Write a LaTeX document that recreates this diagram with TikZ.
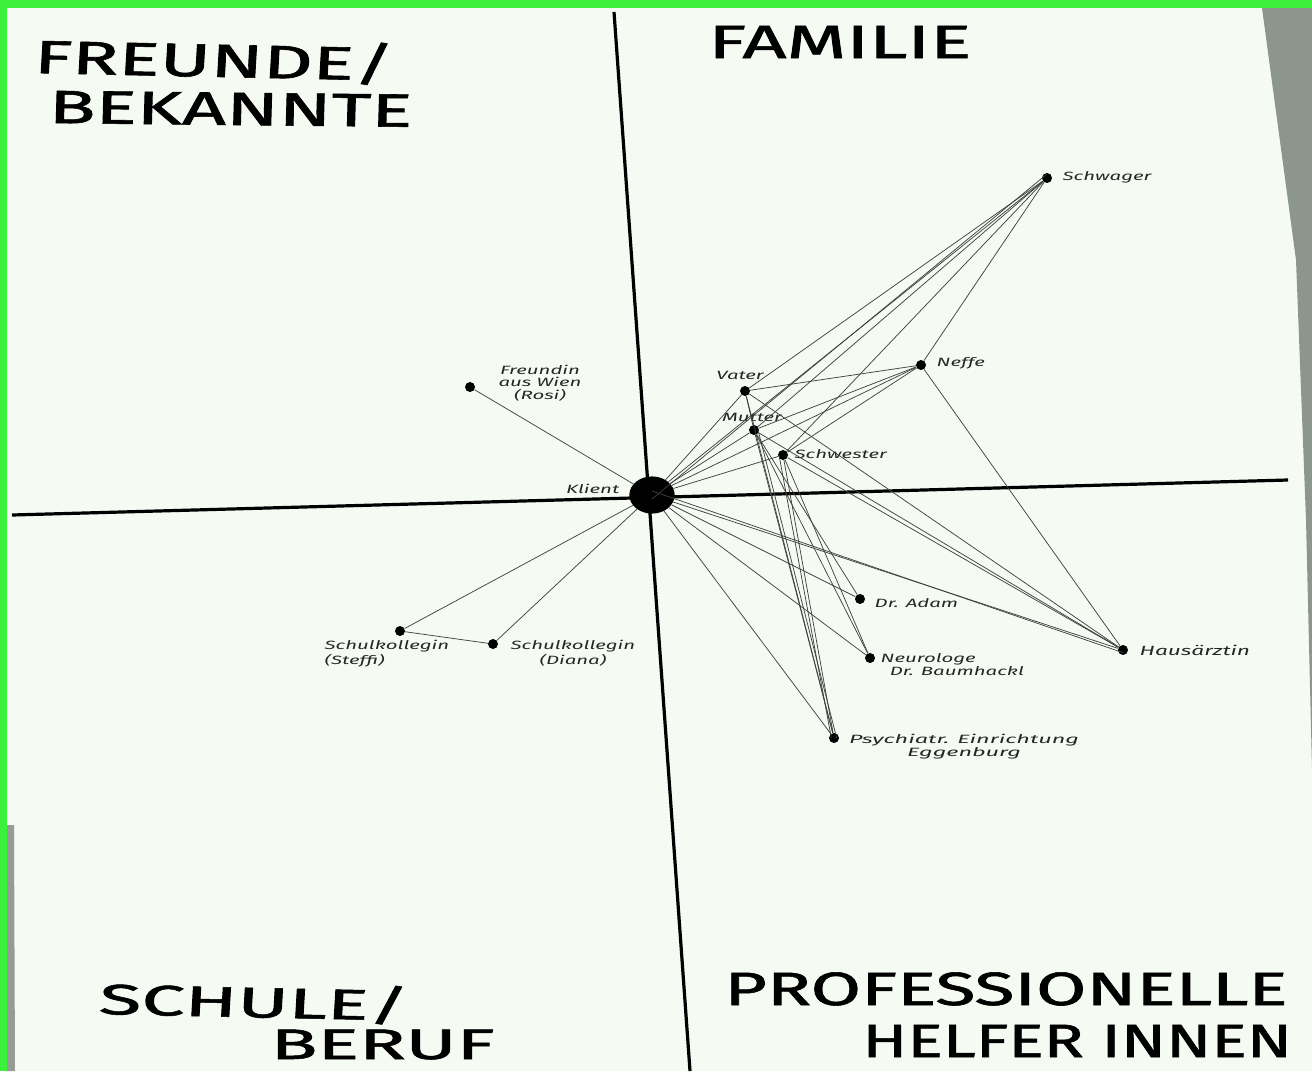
\documentclass[tikz,border=0pt]{standalone}
\usepackage{fontspec}
\setmainfont{Fira Sans}
\newfontfamily\headfont[FakeBold=1.2]{Fira Sans}
\begin{document}
\begin{tikzpicture}[x=0.75pt,y=-0.75pt,
  pt/.style={circle,fill=black,inner sep=0pt,minimum size=7.5pt},
  lbl/.style={font=\fontsize{9}{9.5}\selectfont\itshape,text=black!85,align=center,inner sep=1pt,xscale=1.7},
  head/.style={font=\headfont\fontsize{35}{38}\selectfont,text=black,inner sep=0pt,anchor=base west,xscale=1.65},
  ln/.style={draw=black!75,line width=0.55pt},
  axis/.style={draw=black,line width=2.4pt}]
\useasboundingbox (0,0) rectangle (1312,1071);
% background
\fill[color={rgb,255:red,60;green,240;blue,60}] (0,0) rectangle (1312,1071);
\fill[color={rgb,255:red,245;green,250;blue,242}] (7,8) rectangle (1312,1071);
\fill[color={rgb,255:red,140;green,150;blue,140}] (1262,8) -- (1312,8) -- (1312,770) -- (1306,520) -- (1296,260) -- cycle;
\fill[color={rgb,255:red,150;green,155;blue,150}] (7,825) -- (14,825) -- (15,1071) -- (7,1071) -- cycle;
% axes
\coordinate (vt) at (614,12);
\coordinate (vb) at (690,1071);
\coordinate (hl) at (12,515);
\coordinate (hr) at (1288,480);
\draw[axis] (vt) -- (vb);
\draw[axis] (hl) -- (hr);
% headings
\node[head,rotate=-2] (h1) at (33,73) {FREUNDE/};
\node[head,rotate=-1] (h2) at (48,123) {BEKANNTE};
\node[head] (h3) at (708,58) {FAMILIE};
\node[head,rotate=-2,font=\headfont\fontsize{32}{34}\selectfont,xscale=1.1] (h4) at (98,1014) {SCHULE/};
\node[head,font=\headfont\fontsize{32}{34}\selectfont,xscale=1.1] (h5) at (270,1059) {BERUF};
\node[head,xscale=0.95] (h6) at (724,1005) {PROFESSIONELLE};
\node[head,xscale=0.86] (h7) at (862,1057) {HELFER INNEN};
% nodes
\node[circle,fill=black,minimum width=34pt,inner sep=0pt,yscale=0.82] (K) at (652,495) {};
\node[pt] (fr) at (470,387) {};
\node[pt] (va) at (745,391) {};
\node[pt] (mu) at (754,430) {};
\node[pt] (sw) at (783,455) {};
\node[pt] (ne) at (921,365) {};
\node[pt] (sg) at (1047,178) {};
\node[pt] (da) at (860,599) {};
\node[pt] (nr) at (870,658) {};
\node[pt] (ha) at (1123,650) {};
\node[pt] (ps) at (834,738) {};
\node[pt] (st) at (400,631) {};
\node[pt] (di) at (493,644) {};
% labels
\node[lbl,anchor=east] (lK) at (622,489) {Klient};
\node[lbl] (lfr) at (540,383) {Freundin\\aus Wien\\(Rosi)};
\node[lbl] (lva) at (740,375) {Vater};
\node[lbl] (lmu) at (752,417) {Mutter};
\node[lbl,anchor=west] (lsw) at (792,454) {Schwester};
\node[lbl,anchor=west] (lne) at (934,363) {Neffe};
\node[lbl,anchor=west] (lsg) at (1060,177) {Schwager};
\node[lbl,anchor=west] (lda) at (872,603) {Dr. Adam};
\node[lbl,anchor=north west,align=left] (lnr) at (878,652) {Neurologe\\\hspace*{4pt}Dr. Baumhackl};
\node[lbl,anchor=west,font=\fontsize{10}{11}\selectfont\itshape] (lha) at (1137,650) {Hausärztin};
\node[lbl,anchor=north west,align=center,xscale=1.15] (lps) at (846,733) {Psychiatr. Einrichtung\\Eggenburg};
\node[lbl,anchor=north west,align=left] (lst) at (322,639) {Schulkollegin\\(Steffi)};
\node[lbl,anchor=north west] (ldi) at (508,639) {Schulkollegin\\(Diana)};
% connectors
\foreach \a/\b in {K/fr,K/st,K/di,st/di,
  K/va,K/mu,K/sw,K/ne,K/sg,
  sg/va,sg/mu,sg/sw,sg/ne,
  va/ne,mu/ne,sw/ne,va/mu,
  K/da,K/nr,K/ha,K/ps,
  ne/ha,va/ha,mu/ha,sw/ha,
  mu/ps,va/ps,sw/ps,
  mu/da,sw/nr,mu/nr}
  \draw[ln] (\a) -- (\b);
\draw[ln] ([xshift=3pt]mu.center) -- ([xshift=2pt]ps.center);
\draw[ln] ([xshift=-3pt]sw.center) -- ([xshift=-2pt]ps.center);
\draw[ln] ([yshift=3pt]K.center) -- ([yshift=-2pt]ha.center);
\draw[ln] ([yshift=-3pt]K.center) -- ([yshift=3pt]sg.center);
\end{tikzpicture}
\end{document}
